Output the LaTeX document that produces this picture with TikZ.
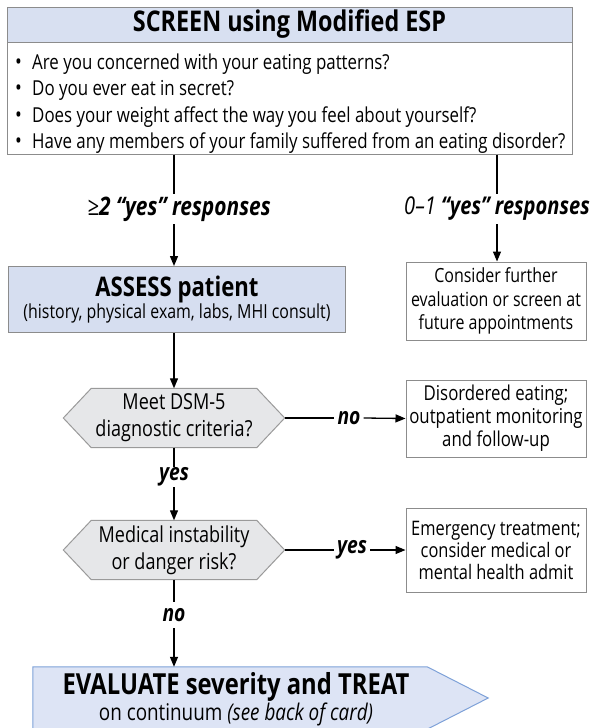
\documentclass[tikz,border=0pt]{standalone}
\usepackage{fontspec}
\setmainfont{Open Sans}[FakeStretch=0.82]
\usetikzlibrary{arrows.meta}
\definecolor{hdrfill}{HTML}{D8E0F1}
\definecolor{assessfill}{HTML}{D6DEF0}
\definecolor{evalfill}{HTML}{DDE4F5}
\definecolor{evaldraw}{HTML}{7EA1D8}
\definecolor{boxline}{HTML}{8C8C8C}
\definecolor{hexfill}{HTML}{E6E7E9}
\definecolor{hexline}{HTML}{9A9A9A}
\newcommand{\fsz}[2]{\fontsize{#1}{#2}\selectfont}
\newcommand{\bull}{\makebox[17pt][l]{\fsz{22}{26.4}•}}
\pgfdeclarelayer{background}
\pgfsetlayers{background,main}
\begin{document}
\begin{tikzpicture}[x=1pt,y=-1pt,
  conn/.style={line width=1.3pt, black},
  arr/.style={conn, -{Triangle[length=10pt,width=8pt]}},
  outbox/.style={draw=boxline, line width=1pt, fill=white, inner sep=0pt, align=center},
  lbl/.style={inner ysep=0pt, inner xsep=3pt, font=\fsz{23.5}{26}\bfseries\itshape},
  hexnode/.style={minimum width=221pt, minimum height=59pt, inner sep=0pt, align=center, font=\fsz{22}{27}},
  hexshape/.style={draw=hexline, fill=hexfill, line width=1pt}]
\useasboundingbox (0,0) rectangle (592,728);

% screen box
\node[draw=boxline, fill=hdrfill, line width=1pt, minimum width=565pt, minimum height=35pt, inner sep=0pt, font=\fsz{28.5}{30}\bfseries] (hdr) at (289.5,24.5) {SCREEN using Modified ESP};
\node[draw=boxline, line width=1pt, minimum width=565pt, minimum height=112pt, inner sep=0pt] (qs) at (289.5,98) {};
\node[anchor=west, inner sep=0pt, align=left, font=\fsz{20.6}{26.4}] (qtext) at (15,103.5)
  {\bull Are you concerned with your eating patterns?\\
   \bull Do you ever eat in secret?\\
   \bull Does your weight affect the way you feel about yourself?\\
   \bull Have any members of your family suffered from an eating disorder?};

\coordinate (la) at (174,154);
\coordinate (ra) at (497,154);

% response labels
\node[lbl, minimum height=30pt, font=\fsz{25.5}{28}\bfseries\itshape] (r1) at (179,209) {{\mdseries ≥}2 “yes” responses};
\node[lbl, minimum height=30pt, font=\fsz{24.5}{28}\bfseries\itshape] (r2) at (497,209) {{\mdseries 0–1} “yes” responses};

% assess
\node[draw=boxline, fill=assessfill, line width=1pt, minimum width=337pt, minimum height=66pt, inner sep=0pt, align=center] (assess) at (177,299.5)
  {{\fsz{27}{26}\bfseries ASSESS patient}\\{\fsz{19.4}{27}(history, physical exam, labs, MHI consult)}};

% consider
\node[outbox, minimum width=180pt, minimum height=78pt, font=\fsz{19.5}{23.5}] (cons) at (496,301) {Consider further\\evaluation or screen at\\future appointments};

% hexagons
\node[hexnode] (hex1) at (174,418) {Meet DSM-5\\diagnostic criteria?};
\node[hexnode] (hex2) at (174,550) {Medical instability\\or danger risk?};
\begin{pgfonlayer}{background}
\draw[hexshape] (hex1.west) -- ([xshift=28pt]hex1.north west) -- ([xshift=-28pt]hex1.north east) -- (hex1.east) -- ([xshift=-28pt]hex1.south east) -- ([xshift=28pt]hex1.south west) -- cycle;
\draw[hexshape] (hex2.west) -- ([xshift=28pt]hex2.north west) -- ([xshift=-28pt]hex2.north east) -- (hex2.east) -- ([xshift=-28pt]hex2.south east) -- ([xshift=28pt]hex2.south west) -- cycle;
\end{pgfonlayer}

% right boxes
\node[outbox, minimum width=180pt, minimum height=77pt, font=\fsz{20.5}{23}] (dis) at (496,418.5) {Disordered eating;\\outpatient monitoring\\and follow-up};
\node[outbox, minimum width=180pt, minimum height=84pt, font=\fsz{20}{22}] (emg) at (496,550) {Emergency treatment;\\consider medical or\\mental health admit};

% branch labels
\node[lbl, minimum height=20pt] (no1) at (349,418) {no};
\node[lbl, minimum height=20pt] (yes1) at (174,477) {yes};
\node[lbl, minimum height=20pt] (yes2) at (352,550) {yes};
\node[lbl, minimum height=26pt] (no2) at (174,615) {no};

% evaluate
\node[minimum width=455pt, minimum height=62pt, inner sep=0pt] (evalshape) at (260.5,698) {};
\begin{pgfonlayer}{background}
\draw[draw=evaldraw, fill=evalfill, line width=1pt] (evalshape.north west) -- ([xshift=-61pt]evalshape.north east) -- (evalshape.east) -- ([xshift=-61pt]evalshape.south east) -- (evalshape.south west) -- cycle;
\end{pgfonlayer}
\node[inner sep=0pt, align=center] (evaltext) at (236,699.5)
  {{\fsz{29}{28}\bfseries EVALUATE severity and TREAT}\\{\fsz{23}{28}on continuum \textit{(see back of card)}}};

% connectors
\draw[conn] (qs.south -| la) -- (la |- r1.north);
\draw[arr] (la |- r1.south) -- (assess.north -| la);
\draw[conn] (qs.south -| ra) -- (ra |- r2.north);
\draw[arr] (ra |- r2.south) -- (cons.north -| ra);
\draw[arr] (assess.south -| la) -- (hex1.north -| la);
\draw[conn] (hex1.east) -- (no1.west);
\draw[arr] (no1.east) -- (dis.west);
\draw[conn] (hex1.south) -- (yes1.north);
\draw[arr] (yes1.south) -- (hex2.north);
\draw[conn] (hex2.east) -- (yes2.west);
\draw[arr] (yes2.east) -- (emg.west);
\draw[conn] (hex2.south) -- (no2.north);
\draw[arr] (no2.south) -- (evalshape.north -| la);
\end{tikzpicture}
\end{document}
